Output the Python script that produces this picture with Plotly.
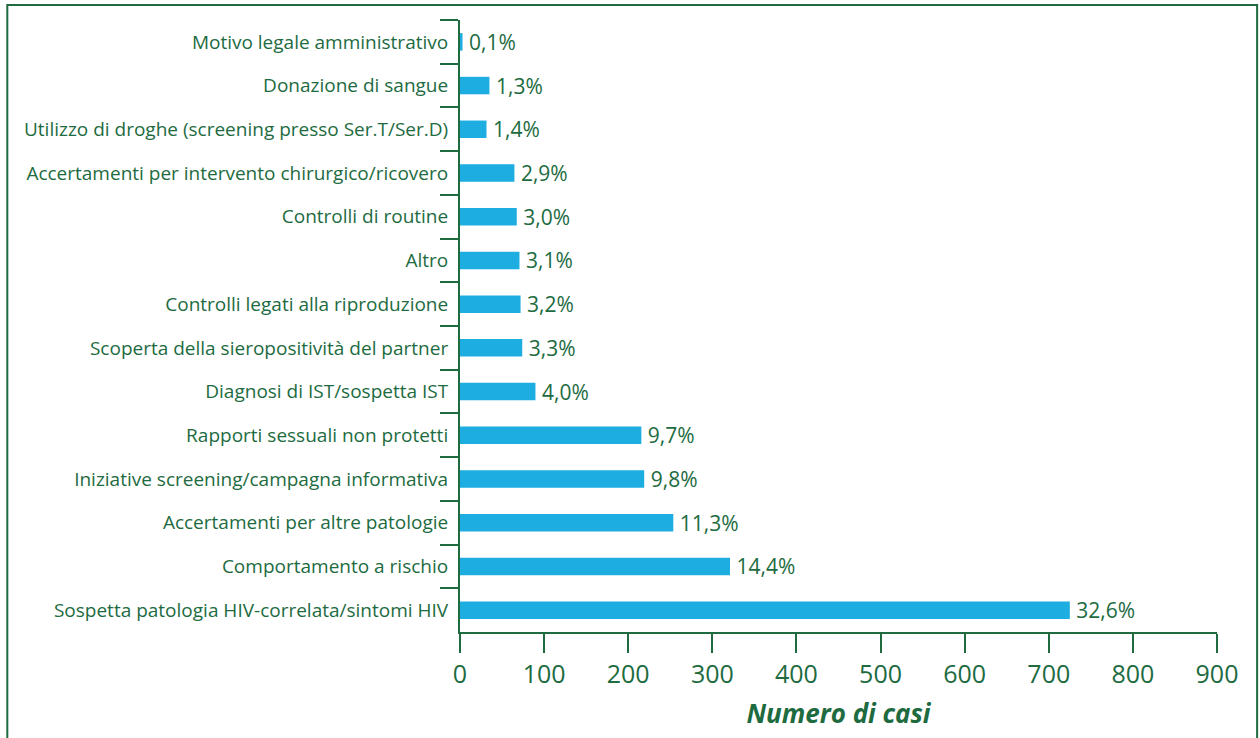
import plotly.graph_objects as go

categories = [
    "Motivo legale amministrativo",
    "Donazione di sangue",
    "Utilizzo di droghe (screening presso Ser.T/Ser.D)",
    "Accertamenti per intervento chirurgico/ricovero",
    "Controlli di routine",
    "Altro",
    "Controlli legati alla riproduzione",
    "Scoperta della sieropositività del partner",
    "Diagnosi di IST/sospetta IST",
    "Rapporti sessuali non protetti",
    "Iniziative screening/campagna informativa",
    "Accertamenti per altre patologie",
    "Comportamento a rischio",
    "Sospetta patologia HIV-correlata/sintomi HIV",
]
cases = [3, 35, 31.5, 64.7, 67.5, 70.7, 72, 74, 89.7, 215.6, 219, 253.6, 321, 725]
percent = ["0,1%", "1,3%", "1,4%", "2,9%", "3,0%", "3,1%", "3,2%", "3,3%",
           "4,0%", "9,7%", "9,8%", "11,3%", "14,4%", "32,6%"]

GREEN = "#1D6B3F"
BLUE = "#1EADE0"
FONT = "Open Sans"

fig = go.Figure()
fig.add_trace(go.Bar(
    x=cases,
    y=categories,
    orientation="h",
    marker=dict(color=BLUE, line=dict(width=0)),
    width=0.4,
    text=percent,
    texttemplate="\u2009%{text}",
    textposition="outside",
    constraintext="none",
    textfont=dict(family=FONT, size=21, color=GREEN),
    cliponaxis=False,
    hoverinfo="skip",
))

fig.update_layout(
    width=1260,
    height=738,
    margin=dict(l=460, r=43, t=20, b=106),
    paper_bgcolor="white",
    plot_bgcolor="white",
    showlegend=False,
    font=dict(family=FONT, color=GREEN),
    xaxis=dict(
        range=[0, 900],
        dtick=100,
        tick0=0,
        showgrid=False,
        zeroline=False,
        showline=True,
        linecolor=GREEN,
        linewidth=2,
        ticks="outside",
        ticklen=19,
        tickwidth=2,
        tickcolor=GREEN,
        tickfont=dict(family=FONT, size=25, color=GREEN),
        title=dict(text="<b><i>Numero di casi</i></b>",
                   font=dict(family=FONT, size=26, color=GREEN), standoff=16),
    ),
    yaxis=dict(
        autorange="reversed",
        showgrid=False,
        showline=True,
        linecolor=GREEN,
        linewidth=2,
        ticks="outside",
        tickson="boundaries",
        ticklen=18,
        tickwidth=2,
        tickcolor=GREEN,
        ticklabelstandoff=6,
        tickfont=dict(family=FONT, size=19, color=GREEN),
    ),
    shapes=[dict(
        type="rect", xref="paper", yref="paper",
        x0=-0.598, x1=1.053, y0=-0.2, y1=1.0245,
        line=dict(color=GREEN, width=2), layer="below",
    )],
)

fig.write_html("out.html", config={"displayModeBar": False},
               post_script="document.body.style.margin='0';")
